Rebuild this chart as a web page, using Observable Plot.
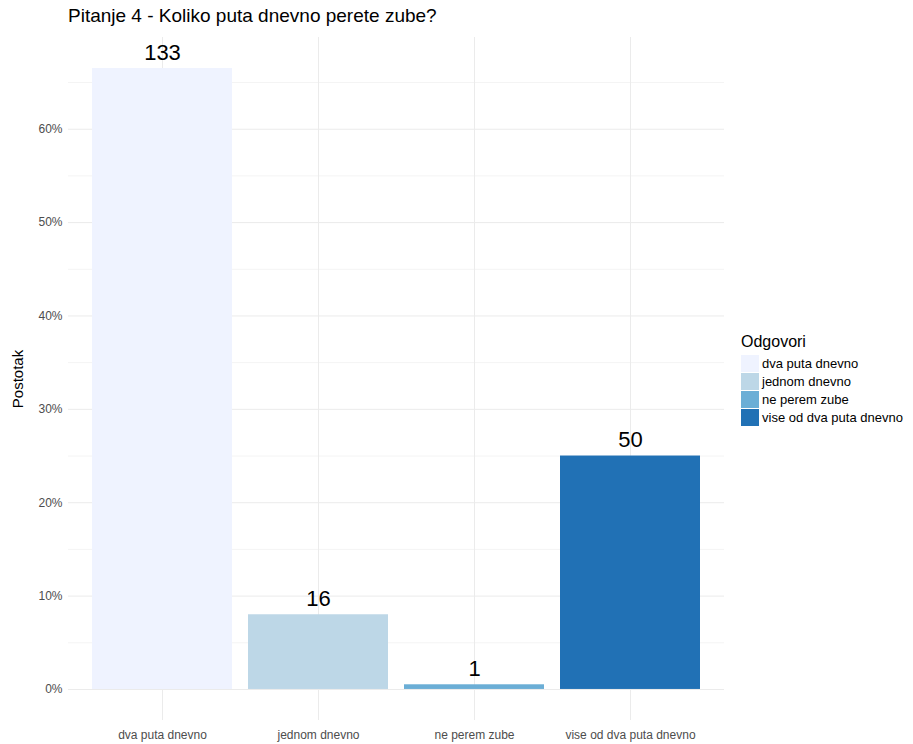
<!DOCTYPE html>
<html>
<head>
<meta charset="utf-8">
<script src="https://cdn.jsdelivr.net/npm/d3@7"></script>
<script src="https://cdn.jsdelivr.net/npm/@observablehq/plot@0.6"></script>
<style>
  body { margin: 0; background: #fff; font-family: "Liberation Sans", Arial, sans-serif; }
  #wrap { position: relative; width: 913px; height: 744px; }
  #title { position: absolute; left: 68px; top: 5px; font-size: 19px; color: #000; white-space: nowrap; }
  #legend { position: absolute; left: 741px; top: 333px; }
  #legend .lt { font-size: 16px; color: #000; margin-bottom: 3px; }
  #legend .row { display: flex; align-items: center; height: 18px; }
  #legend .sw { width: 18px; height: 17px; margin-right: 3px; }
  #legend .lab { font-size: 13px; color: #000; white-space: nowrap; }
  #chart { position: absolute; left: 0; top: 0; }
</style>
</head>
<body>
<div id="wrap">
  <div id="chart"></div>
  <div id="title">Pitanje 4 - Koliko puta dnevno perete zube?</div>
  <div id="legend"></div>
</div>
<script>
const categories = ["dva puta dnevno", "jednom dnevno", "ne perem zube", "vise od dva puta dnevno"];
const counts = [133, 16, 1, 50];
const colors = ["#eff3ff", "#bdd7e7", "#6baed6", "#2171b5"];
const majorTicks = [0, 0.1, 0.2, 0.3, 0.4, 0.5, 0.6];
const minorTicks = [0.05, 0.15, 0.25, 0.35, 0.45, 0.55, 0.65];

const total = d3.sum(counts);
const data = categories.map((c, i) => ({cat: c, n: counts[i], pct: counts[i] / total}));
const ymax = d3.max(data, d => d.pct);
const pad = ymax * 0.05;

const chart = Plot.plot({
  width: 913,
  height: 744,
  marginLeft: 68,
  marginRight: 189,
  marginTop: 37,
  marginBottom: 24,
  style: {fontFamily: "Liberation Sans, Arial, sans-serif", background: "transparent"},
  x: {domain: categories, paddingInner: 0.1, paddingOuter: 0.15, label: null},
  y: {domain: [-pad, ymax + pad], label: null},
  color: {domain: categories, range: colors},
  marks: [
    Plot.ruleY(minorTicks, {stroke: "#f4f4f4", strokeWidth: 1}),
    Plot.ruleY(majorTicks, {stroke: "#ebebeb", strokeWidth: 1}),
    Plot.ruleX(categories, {x: d => d, stroke: "#ebebeb", strokeWidth: 1}),
    Plot.barY(data, {x: "cat", y: "pct", fill: "cat"}),
    Plot.text(data, {x: "cat", y: "pct", text: d => String(d.n), lineAnchor: "bottom", dy: -9, fontSize: 22, fill: "#000"}),
    Plot.axisY(majorTicks, {tickSize: 0, tickPadding: 6, tickFormat: d => Math.round(d * 100) + "%", fontSize: 12, fill: "#4d4d4d", label: null}),
    Plot.axisX({tickSize: 0, tickPadding: 10, fontSize: 12, fill: "#4d4d4d", label: null}),
    Plot.text(["Postotak"], {frameAnchor: "left", textAnchor: "middle", dx: -50, rotate: -90, fontSize: 15, fill: "#000"})
  ]
});
document.getElementById("chart").appendChild(chart);

const legend = document.getElementById("legend");
const lt = document.createElement("div");
lt.className = "lt";
lt.textContent = "Odgovori";
legend.appendChild(lt);
categories.forEach((c, i) => {
  const row = document.createElement("div");
  row.className = "row";
  const sw = document.createElement("div");
  sw.className = "sw";
  sw.style.background = colors[i];
  const lab = document.createElement("span");
  lab.className = "lab";
  lab.textContent = c;
  row.appendChild(sw);
  row.appendChild(lab);
  legend.appendChild(row);
});
</script>
</body>
</html>
